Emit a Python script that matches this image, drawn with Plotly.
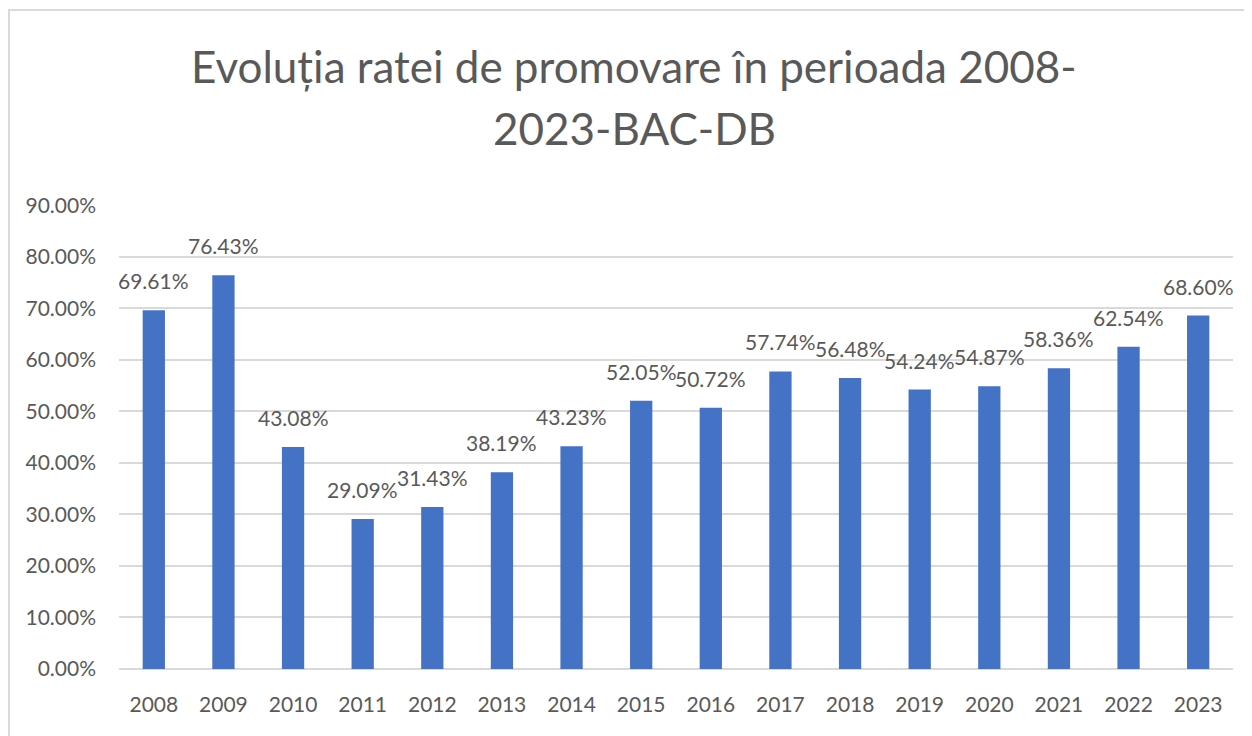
import plotly.graph_objects as go

years = ["2008", "2009", "2010", "2011", "2012", "2013", "2014", "2015",
         "2016", "2017", "2018", "2019", "2020", "2021", "2022", "2023"]
rates = [0.6961, 0.7643, 0.4308, 0.2909, 0.3143, 0.3819, 0.4323, 0.5205,
         0.5072, 0.5774, 0.5648, 0.5424, 0.5487, 0.5836, 0.6254, 0.6860]
y_ticks = [0, 0.1, 0.2, 0.3, 0.4, 0.5, 0.6, 0.7, 0.8, 0.9]
title_lines = ["Evoluția ratei de promovare în perioada 2008-", "2023-BAC-DB"]

FONT = "Lato"
GREY = "#595959"

W, H = 1252, 736
ml, mr, mt, mb = 111, 27, 197, 75
pw = W - ml - mr
ph = H - mt - mb

fig = go.Figure()
fig.add_trace(go.Bar(
    x=years, y=rates,
    marker=dict(color="#4472C4", line=dict(width=0)),
    hoverinfo="x+y",
))

for i, v in enumerate(rates):
    fig.add_annotation(
        x=i, y=v, xref="x", yref="y", text=f"{v*100:.2f}%", showarrow=False,
        yanchor="bottom", yshift=15,
        font=dict(family=FONT, size=21, color=GREY),
    )

# title as two centred lines
title_cx = (626 - ml) / pw
for line, ypx in zip(title_lines, [58, 120]):
    fig.add_annotation(
        x=title_cx, xref="paper", y=(H - mb - ypx) / ph, yref="paper",
        text=line, showarrow=False, xanchor="center", yanchor="middle",
        font=dict(family=FONT, size=44, color=GREY),
    )

# chart border (top and left visible)
fig.add_shape(type="rect", xref="paper", yref="paper",
              x0=(1 - ml) / pw, x1=(W + 10 - ml) / pw,
              y0=-(mb + 20) / ph, y1=1 + (mt - 2) / ph,
              line=dict(color="#D9D9D9", width=2), layer="below")

fig.update_layout(
    width=W, height=H,
    margin=dict(l=ml, r=mr, t=mt, b=mb, autoexpand=False),
    paper_bgcolor="white", plot_bgcolor="white",
    bargap=0.68,
    showlegend=False,
    xaxis=dict(type="category", range=[-0.5, len(years) - 0.5],
               tickfont=dict(family=FONT, size=21, color=GREY),
               showgrid=False, showline=False, ticks="", automargin=False,
               ticklabelstandoff=21),
    yaxis=dict(range=[0, 0.9005], tickvals=y_ticks, tickformat=".2%",
               tickfont=dict(family=FONT, size=21, color=GREY),
               showgrid=True, gridcolor="#D9D9D9", gridwidth=2,
               zeroline=True, zerolinecolor="#D9D9D9", zerolinewidth=2,
               showline=False, ticks="", automargin=False,
               ticklabelstandoff=22),
)

fig.write_html("out.html")
